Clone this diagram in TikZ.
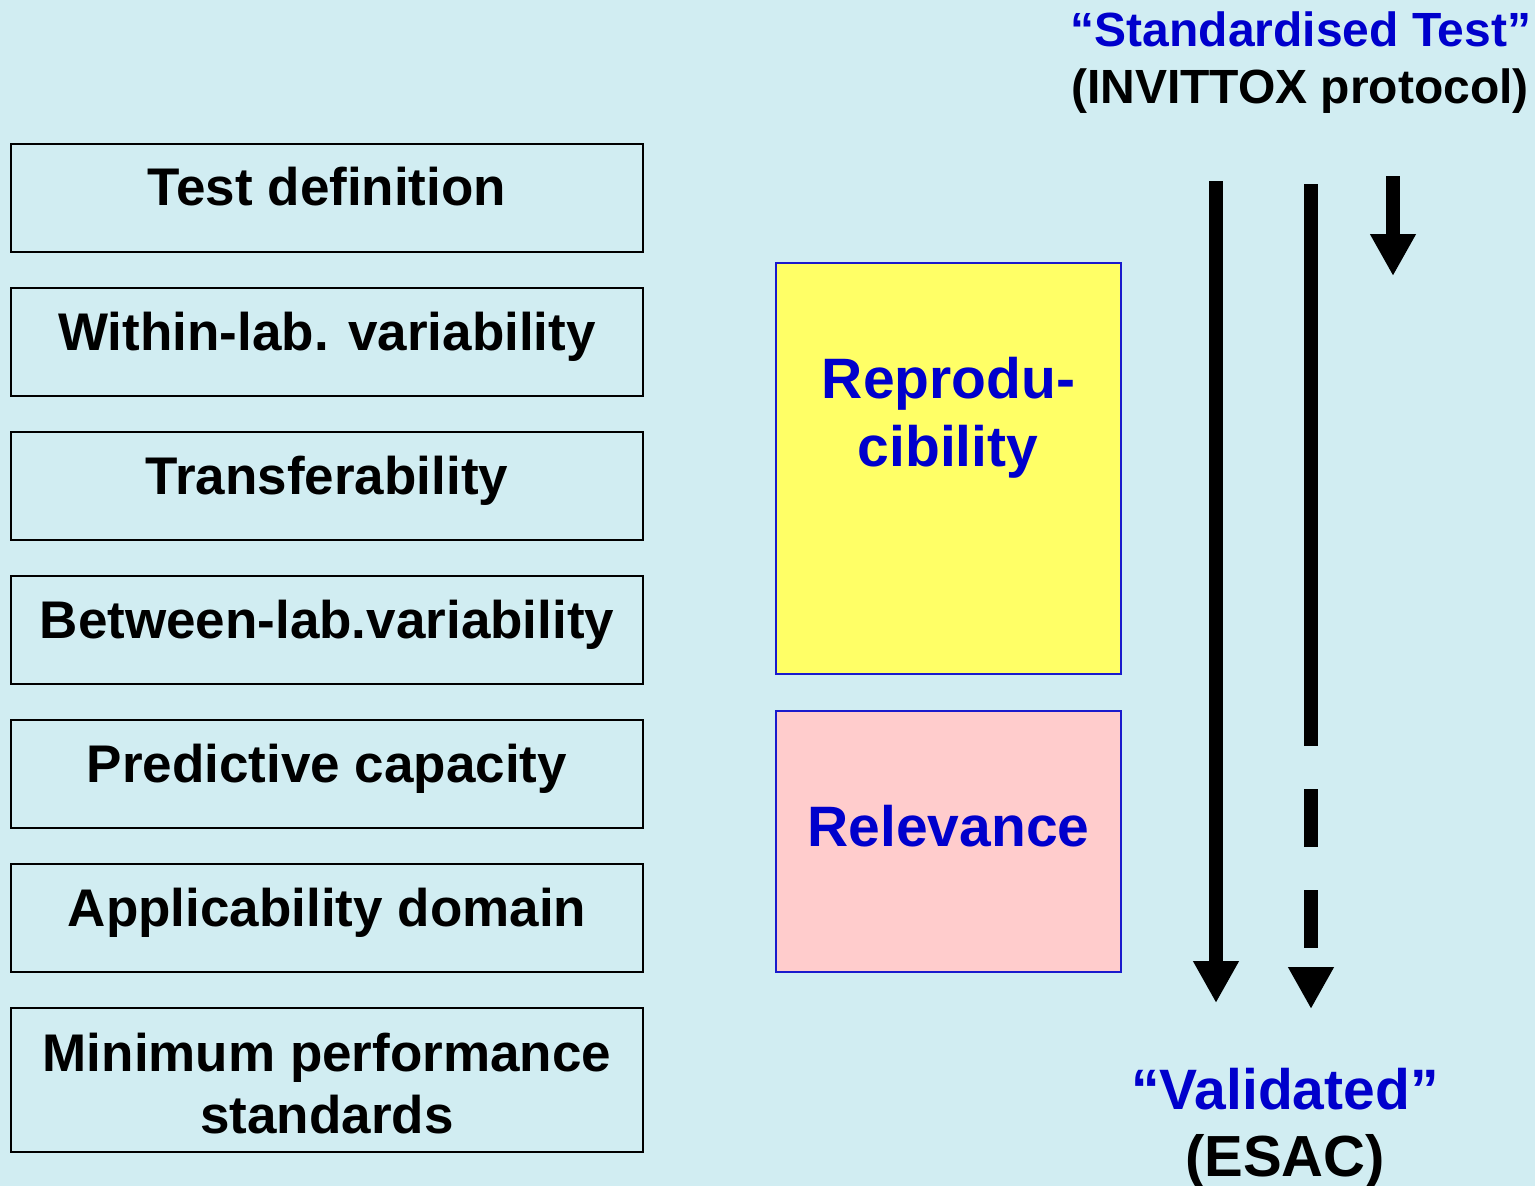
\documentclass[tikz,border=0pt]{standalone}
\usepackage{fontspec}
\setmainfont{Liberation Sans}
\usetikzlibrary{arrows.meta,calc}
\definecolor{bgc}{HTML}{D1EDF2}
\definecolor{txtblue}{HTML}{0000CC}
\definecolor{edgeblue}{HTML}{1A1ACC}
\definecolor{yel}{HTML}{FFFF66}
\definecolor{pink}{HTML}{FFCCCC}
\tikzset{
  critbox/.style={draw=black,line width=1.5pt,minimum width=632pt,inner sep=0pt},
  crittxt/.style={anchor=base,inner sep=0pt,font=\fontsize{53}{62}\selectfont\bfseries,align=center},
  colbox/.style={draw=edgeblue,line width=2pt,minimum width=345pt,inner sep=0pt},
  coltxt/.style={anchor=base,inner sep=0pt,text=txtblue,font=\fontsize{57}{68}\selectfont\bfseries,align=center},
  bigarrow/.style={line width=14pt,-{Triangle[width=43pt,length=42pt]}},
}
\begin{document}
\begin{tikzpicture}[x=1pt,y=-1pt]
\useasboundingbox[fill=bgc] (0,0) rectangle (1535,1186);
% left boxes
\node[critbox,minimum height=108pt] (b1) at (327,198) {};
\node[critbox,minimum height=108pt] (b2) at (327,342) {};
\node[critbox,minimum height=108pt] (b3) at (327,486) {};
\node[critbox,minimum height=108pt] (b4) at (327,630) {};
\node[critbox,minimum height=108pt] (b5) at (327,774) {};
\node[critbox,minimum height=108pt] (b6) at (327,918) {};
\node[critbox,minimum height=144pt] (b7) at (327,1080) {};
\node[crittxt] (t1) at (327,205) {Test definition};
\node[crittxt] (t2) at (327,350) {Within-lab. variability};
\node[crittxt] (t3) at (327,494) {Transferability};
\node[crittxt] (t4) at (327,638) {Between-lab.variability};
\node[crittxt] (t5) at (327,782) {Predictive capacity};
\node[crittxt] (t6) at (327,926) {Applicability domain};
\node[crittxt] (t7a) at (327,1071) {Minimum performance};
\node[crittxt] (t7b) at (327,1133) {standards};
% coloured boxes
\node[colbox,fill=yel,minimum height=411pt] (rep) at (948.5,468.5) {};
\node[coltxt] (rept1) at (948.5,398) {Reprodu-};
\node[coltxt] (rept2) at (948,466) {cibility};
\node[colbox,fill=pink,minimum height=261pt] (rel) at (948.5,841.5) {};
\node[coltxt] (relt) at (948.5,846) {Relevance};
% top right
\node[anchor=base,inner sep=0pt,text=txtblue,font=\fontsize{48}{56}\selectfont\bfseries] (std) at (1301,46) {“Standardised Test”};
\node[anchor=base,inner sep=0pt,font=\fontsize{48}{56}\selectfont\bfseries] (inv) at (1300,103) {(INVITTOX protocol)};
% bottom right
\node[anchor=base,inner sep=0pt,text=txtblue,font=\fontsize{57}{68}\selectfont\bfseries] (val) at (1285,1109) {“Validated”};
\node[anchor=base,inner sep=0pt,font=\fontsize{58}{68}\selectfont\bfseries] (esac) at (1285,1176) {(ESAC)};
% arrows
\coordinate (a1s) at (1216,181);
\coordinate (a1e) at (1216,1003);
\coordinate (a2s) at (1311,184);
\coordinate (a2e) at (1311,1009);
\coordinate (a3s) at (1393,176);
\coordinate (a3e) at (1393,276);
\draw[bigarrow] (a1s) -- (a1e);
\draw[bigarrow,dash pattern=on 562pt off 43pt on 58pt off 43pt on 58pt off 200pt] (a2s) -- (a2e);
\draw[bigarrow] (a3s) -- (a3e);
\end{tikzpicture}
\end{document}
